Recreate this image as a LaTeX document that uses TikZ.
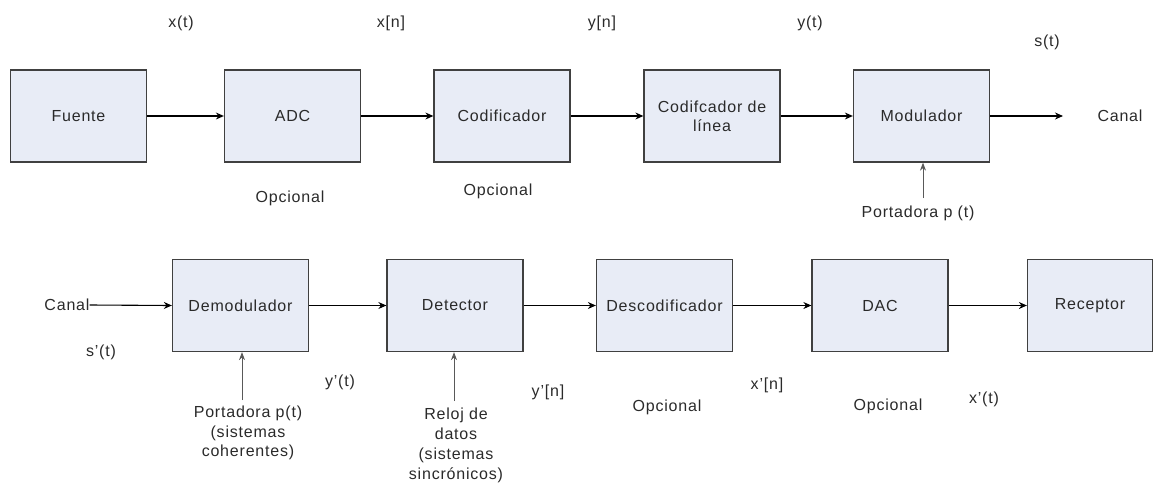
\documentclass[tikz,border=0pt]{standalone}
\usepackage{fontspec}
\setmainfont{Liberation Sans}[LetterSpace=5]
\usetikzlibrary{arrows.meta}
\definecolor{boxfill}{HTML}{E8ECF6}
\definecolor{boxline}{HTML}{404040}
\definecolor{txt}{HTML}{2A2A2A}
\begin{document}
\begin{tikzpicture}[x=1pt,y=-1pt,
  blk/.style={draw=boxline,line width=1.3pt,fill=boxfill,minimum width=136pt,minimum height=92pt,inner sep=0pt,text=txt,align=center,font=\fontsize{16}{19}\selectfont},
  lbl/.style={text=txt,inner sep=0pt,align=center,font=\fontsize{16}{19}\selectfont},
  flow/.style={draw=black,line width=1.1pt,-{Stealth[length=8pt,width=7pt]}},
  aux/.style={draw=black!65,line width=0.9pt,-{Stealth[length=8pt,width=6pt]}}]
\useasboundingbox (0,0) rectangle (1154,485);
% top row
\node[blk] (fuente) at (78.5,116) {Fuente};
\node[blk] (adc) at (292.5,116) {ADC};
\node[blk] (cod) at (502,116) {Codificador};
\node[blk] (codl) at (712,116) {Codifcador de\\línea};
\node[blk] (mod) at (921.5,116) {Modulador};
\node[lbl] (canal1) at (1120,116) {Canal};
\coordinate (canalin) at (1063,116);
\draw[flow] (fuente) -- (adc);
\draw[flow] (adc) -- (cod);
\draw[flow] (cod) -- (codl);
\draw[flow] (codl) -- (mod);
\draw[flow] (mod) -- (canalin);
\node[lbl] (xt) at (181,23) {x(t)};
\node[lbl] (xn) at (391,23) {x[n]};
\node[lbl] (yn) at (602,23) {y[n]};
\node[lbl] (yt) at (810,23) {y(t)};
\node[lbl] (st) at (1047,42) {s(t)};
\node[lbl] (op1) at (290,198) {Opcional};
\node[lbl] (op2) at (498,191) {Opcional};
\node[lbl] (port1) at (918,213) {Portadora p (t)};
\coordinate (p1s) at (923,198);
\draw[aux] (p1s) -- (mod.south -| p1s);
% bottom row
\node[blk] (demod) at (240.5,305.5) {Demodulador};
\node[blk] (det) at (455,305.5) {Detector};
\node[blk] (desc) at (664.5,305.5) {Descodificador};
\node[blk] (dac) at (880,305.5) {DAC};
\node[blk,minimum width=125pt] (rec) at (1090,305.5) {Receptor};
\node[lbl] (canal2) at (67,305) {Canal};
\draw[flow] (canal2.east) -- (demod.west);
\draw[flow] (demod) -- (det);
\draw[flow] (det) -- (desc);
\draw[flow] (desc) -- (dac);
\draw[flow] (dac) -- (rec);
\node[lbl] (sp) at (101,352) {s'(t)};
\node[lbl] (ypt) at (340,382) {y'(t)};
\node[lbl] (ypn) at (548,392) {y'[n]};
\node[lbl] (op3) at (667,407) {Opcional};
\node[lbl] (xpn) at (767,385) {x'[n]};
\node[lbl] (op4) at (888,406) {Opcional};
\node[lbl] (xpt) at (984,399) {x'(t)};
\node[lbl,font=\fontsize{16}{19.5}\selectfont] (port2) at (248,433) {Portadora p(t)\\(sistemas\\coherentes)};
\coordinate (p2s) at (242,400);
\draw[aux] (p2s) -- (demod.south -| p2s);
\node[lbl,font=\fontsize{16}{20}\selectfont] (reloj) at (456,445) {Reloj de\\datos\\(sistemas\\sincrónicos)};
\coordinate (p3s) at (454,401);
\draw[aux] (p3s) -- (det.south -| p3s);
\end{tikzpicture}
\end{document}
